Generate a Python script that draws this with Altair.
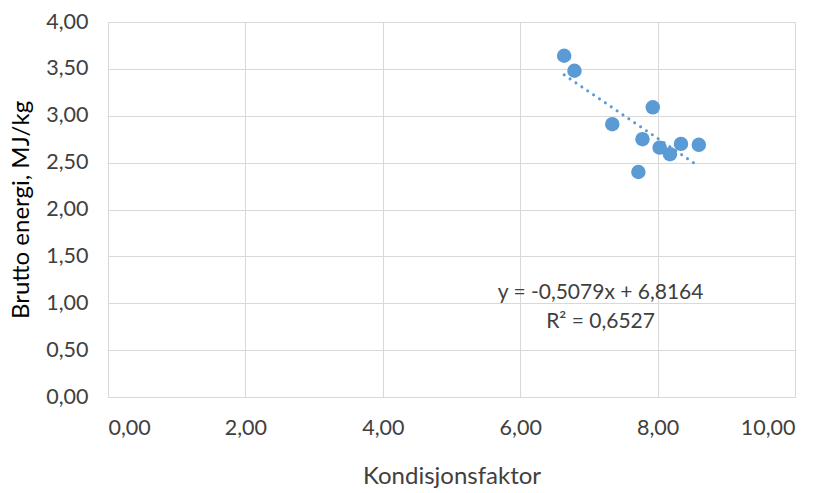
import altair as alt
import pandas as pd

# Data
kondisjonsfaktor = [6.64, 6.79, 7.93, 7.34, 7.78, 8.03, 8.18, 8.34, 8.60, 7.72]
brutto_energi = [3.64, 3.48, 3.09, 2.91, 2.75, 2.66, 2.59, 2.70, 2.69, 2.40]

x_ticks = [0, 2, 4, 6, 8, 10]
y_ticks = [0, 0.5, 1.0, 1.5, 2.0, 2.5, 3.0, 3.5, 4.0]

eq_labels = ["y = -0,5079x + 6,8164", "R² = 0,6527"]
eq_x = [7.17, 7.17]
eq_y = [1.11, 0.80]

df = pd.DataFrame({"x": kondisjonsfaktor, "y": brutto_energi})
eq_df = pd.DataFrame({"label": eq_labels, "x": eq_x, "y": eq_y})

FONT = "Lato"
COLOR = "#5B9BD5"
GRID = "#D9D9D9"
fmt = "replace(format(datum.value, '.2f'), '.', ',')"

xscale = alt.Scale(domain=[0, 10], nice=False, zero=False)
yscale = alt.Scale(domain=[0, 4], nice=False, zero=False)

xaxis = alt.Axis(values=x_ticks, labelExpr=fmt, title="Kondisjonsfaktor",
                 grid=True, gridColor=GRID, domainColor=GRID, ticks=False,
                 labelFont=FONT, labelFontSize=21.5, labelColor="#404040",
                 labelPadding=20, titleFont=FONT, titleFontSize=24,
                 titleFontWeight="normal", titleColor="#404040", titlePadding=26)
yaxis = alt.Axis(values=y_ticks, labelExpr=fmt, title="Brutto energi, MJ/kg",
                 grid=True, gridColor=GRID, domainColor=GRID, ticks=False,
                 labelFont=FONT, labelFontSize=21.5, labelColor="#404040",
                 labelPadding=20, titleFont=FONT, titleFontSize=24,
                 titleFontWeight="normal", titleColor="#000000", titlePadding=12)

points = alt.Chart(df).mark_circle(size=210, opacity=1, color=COLOR).encode(
    x=alt.X("x:Q", scale=xscale, axis=xaxis),
    y=alt.Y("y:Q", scale=yscale, axis=yaxis),
)

trend = alt.Chart(df).transform_regression("x", "y").mark_line(
    color=COLOR, strokeWidth=3, strokeDash=[0.1, 7], strokeCap="round"
).encode(
    x=alt.X("x:Q", scale=xscale),
    y=alt.Y("y:Q", scale=yscale),
)

text = alt.Chart(eq_df).mark_text(font=FONT, fontSize=21, color="#404040",
                                  align="center", baseline="middle").encode(
    x=alt.X("x:Q", scale=xscale),
    y=alt.Y("y:Q", scale=yscale),
    text="label:N",
)

chart = alt.layer(trend, points, text).properties(
    width=687, height=375,
    autosize=alt.AutoSizeParams(type="none"),
    padding={"left": 108, "top": 22, "right": 29, "bottom": 96},
).configure_view(stroke=None).configure(background="white")

chart.save("out.html", embed_options={"renderer": "svg", "actions": False})
